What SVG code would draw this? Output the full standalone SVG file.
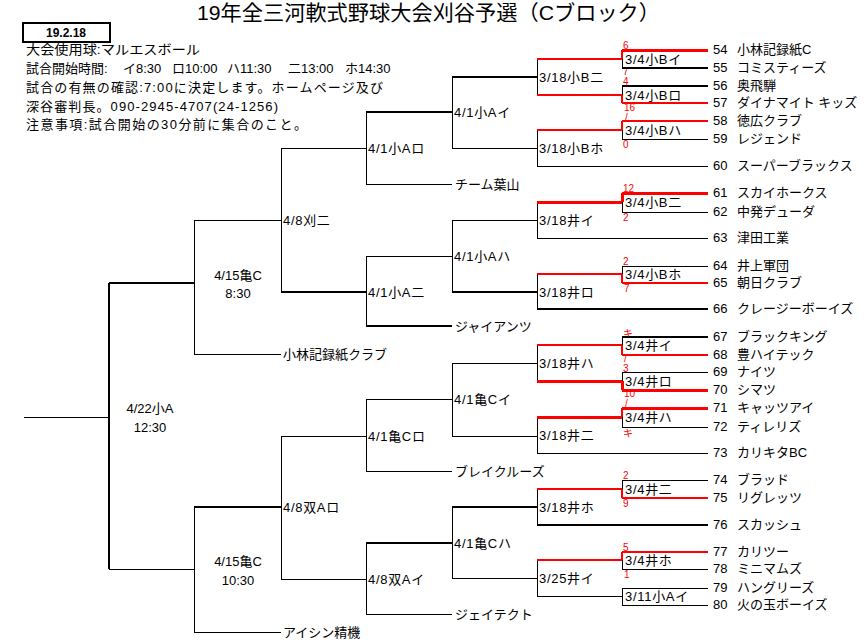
<svg xmlns="http://www.w3.org/2000/svg" width="867" height="642" viewBox="0 0 867 642">
<style>
text{font-family:"Liberation Sans","Noto Sans CJK JP",sans-serif;font-size:13px;fill:#000}
.ttl{font-size:21px}
.sc{font-size:10px;fill:#f00}
.c{text-anchor:middle}
.lb{letter-spacing:0.7px}
path{fill:none;shape-rendering:crispEdges}
.k1{stroke:#000;stroke-width:1}
.k2{stroke:#000;stroke-width:2}
.r2{stroke:#f00;stroke-width:2}
.r3{stroke:#f00;stroke-width:3}
</style>
<rect width="867" height="642" fill="#fff"/>
<g id="title"><text class="ttl" x="197" y="20" textLength="463" lengthAdjust="spacingAndGlyphs">19年全三河軟式野球大会刈谷予選（Cブロック）</text></g>
<g id="datebox">
<rect x="23" y="23" width="87" height="19" fill="#fff" stroke="#000" stroke-width="2"/>
<text class="c" x="66" y="37" style="font-size:12px;font-weight:bold">19.2.18</text>
</g>
<g id="info">
<text x="26" y="54" textLength="174" lengthAdjust="spacingAndGlyphs">大会使用球:マルエスボール</text>
<text x="26" y="73">試合開始時間:<tspan x="123">イ8:30</tspan><tspan x="172">ロ10:00</tspan><tspan x="227">ハ11:30</tspan><tspan x="288">二13:00</tspan><tspan x="345">ホ14:30</tspan></text>
<text x="26" y="92" textLength="357" lengthAdjust="spacing">試合の有無の確認:7:00に決定します。ホームページ及び</text>
<text x="26" y="111" textLength="252" lengthAdjust="spacing">深谷審判長。090-2945-4707(24-1256)</text>
<text x="26" y="129" textLength="281" lengthAdjust="spacing">注意事項:試合開始の30分前に集合のこと。</text>
</g>
<g id="scores">
<text class="sc" x="623" y="49">6</text>
<text class="sc" x="623" y="75">7</text>
<text class="sc" x="623" y="85">4</text>
<text class="sc" x="624" y="111">16</text>
<text class="sc" x="625" y="121">/</text>
<text class="sc" x="623" y="148">0</text>
<text class="sc" x="623" y="192">12</text>
<text class="sc" x="623" y="221">2</text>
<text class="sc" x="623" y="265">2</text>
<text class="sc" x="624" y="292">7</text>
<text class="sc" x="623" y="337">キ</text>
<text class="sc" x="624" y="362">/</text>
<text class="sc" x="623" y="372">3</text>
<text class="sc" x="624" y="397">10</text>
<text class="sc" x="625" y="407">/</text>
<text class="sc" x="623" y="437">キ</text>
<text class="sc" x="623" y="479">2</text>
<text class="sc" x="623" y="507">9</text>
<text class="sc" x="623" y="551">5</text>
<text class="sc" x="624" y="578">1</text>
</g>
<g id="connectors">
<path class="k1" d="M24 417H109"/>
<path class="k2" d="M109 283V569M109 283H194"/>
<path class="k1" d="M194 220V354M194 220H281M194 354H281"/>
<path class="k1" d="M281 148V292M281 148H366"/>
<path class="k2" d="M281 292H366"/>
<path class="k1" d="M366 112V184M366 184H452"/>
<path class="k2" d="M366 112H452"/>
<path class="k1" d="M452 77V148M452 148H537"/>
<path class="k2" d="M452 77H537"/>
<path class="k1" d="M537 59V95M622 59V68M622 86V95"/>
<path class="r2" d="M537 59H622M622 50V59"/>
<path class="r3" d="M622 50H708"/>
<path class="k2" d="M622 68H708M622 86H708"/>
<path class="r2" d="M537 95H622M622 95V103M622 103H708"/>
<path class="k1" d="M537 130V166M537 166H708M622 130V139M622 139H708"/>
<path class="r2" d="M537 130H622M622 121V130M622 121H708"/>
<path class="k1" d="M366 256V326M366 256H452M452 220V292M452 220H537"/>
<path class="k2" d="M366 326H452M452 292H537"/>
<path class="k1" d="M537 202V238M537 238H708M622 202V212M622 212H708"/>
<path class="r3" d="M537 202H622M622 193V202M622 193H708"/>
<path class="k1" d="M537 274V309M622 266V274M622 266H708"/>
<path class="r2" d="M537 274H622M622 274V283M622 283H708"/>
<path class="k2" d="M537 309H708"/>
<path class="k1" d="M109 569H194M194 507V632M194 632H281"/>
<path class="k2" d="M194 507H281"/>
<path class="k1" d="M281 436V579M281 436H366M281 579H366"/>
<path class="k1" d="M366 399V471M366 399H452M366 471H452"/>
<path class="k1" d="M452 363V436M452 363H537M452 436H537"/>
<path class="k1" d="M537 345V381M622 337V345M622 372V381M622 372H708"/>
<path class="k2" d="M622 337H708"/>
<path class="r2" d="M537 345H622M622 345V355M622 355H708"/>
<path class="r3" d="M537 381H622M622 381V390M622 390H708"/>
<path class="k1" d="M537 417V453M537 453H708M622 417V427M622 427H708"/>
<path class="r3" d="M537 417H622M622 408H708"/>
<path class="r2" d="M622 408V417"/>
<path class="k1" d="M366 543V614M366 614H452M452 507V578M452 578H537"/>
<path class="k2" d="M366 543H452M452 507H537"/>
<path class="k1" d="M537 489V525M622 480V489M622 480H708"/>
<path class="r2" d="M537 489H622M622 489V498M622 498H708"/>
<path class="k2" d="M537 525H708"/>
<path class="k1" d="M537 560V596M622 560V569M622 569H708M537 596H622M622 588V605M622 588H708M622 605H708"/>
<path class="r2" d="M537 560H622M622 552V560M622 552H708"/>
</g>
<g id="m_final"><text class="c" x="150" y="413">4/22小A</text><text class="c" x="150" y="432">12:30</text></g>
<g id="m_415a"><text class="c" x="238" y="280">4/15亀C</text><text class="c" x="238" y="298">8:30</text></g>
<g id="m_415b"><text class="c" x="238" y="566">4/15亀C</text><text class="c" x="238" y="585">10:30</text></g>
<g id="m_48ka"><text class="lb" x="283" y="225">4/8刈二</text></g>
<g id="m_48sa_ro"><text class="lb" x="283" y="512">4/8双Aロ</text></g>
<g id="m_48sa_i"><text class="lb" x="368" y="584">4/8双Aイ</text></g>
<g id="m_41aro"><text class="lb" x="368" y="153">4/1小Aロ</text></g>
<g id="m_41ani"><text class="lb" x="368" y="297">4/1小A二</text></g>
<g id="m_41cro"><text class="lb" x="368" y="441">4/1亀Cロ</text></g>
<g id="m_41ai"><text class="lb" x="454" y="117">4/1小Aイ</text></g>
<g id="m_41aha"><text class="lb" x="454" y="261">4/1小Aハ</text></g>
<g id="m_41ci"><text class="lb" x="454" y="404">4/1亀Cイ</text></g>
<g id="m_41cha"><text class="lb" x="454" y="548">4/1亀Cハ</text></g>
<g id="team_koba"><text x="283" y="359">小林記録紙クラブ</text></g>
<g id="team_aisin"><text x="283" y="637">アイシン精機</text></g>
<g id="team_hayama"><text x="455" y="189">チーム葉山</text></g>
<g id="team_giants"><text x="455" y="331">ジャイアンツ</text></g>
<g id="team_blake"><text x="455" y="476">ブレイクルーズ</text></g>
<g id="team_jtekt"><text x="455" y="619">ジェイテクト</text></g>
<g id="m_318bni"><text class="lb" x="539" y="82">3/18小B二</text></g>
<g id="m_318bho"><text class="lb" x="539" y="153">3/18小Bホ</text></g>
<g id="m_318ii"><text class="lb" x="539" y="225">3/18井イ</text></g>
<g id="m_318iro"><text class="lb" x="539" y="297">3/18井ロ</text></g>
<g id="m_318iha"><text class="lb" x="539" y="368">3/18井ハ</text></g>
<g id="m_318ini"><text class="lb" x="539" y="440">3/18井二</text></g>
<g id="m_318iho"><text class="lb" x="539" y="512">3/18井ホ</text></g>
<g id="m_325ii"><text class="lb" x="539" y="583">3/25井イ</text></g>
<g id="m_34bi"><text class="lb" x="625" y="64">3/4小Bイ</text></g>
<g id="m_34bro"><text class="lb" x="625" y="100">3/4小Bロ</text></g>
<g id="m_34bha"><text class="lb" x="625" y="135">3/4小Bハ</text></g>
<g id="m_34bni"><text class="lb" x="625" y="207">3/4小B二</text></g>
<g id="m_34bho"><text class="lb" x="625" y="279">3/4小Bホ</text></g>
<g id="m_34ii"><text class="lb" x="625" y="350">3/4井イ</text></g>
<g id="m_34iro"><text class="lb" x="625" y="386">3/4井ロ</text></g>
<g id="m_34iha"><text class="lb" x="625" y="422">3/4井ハ</text></g>
<g id="m_34ini"><text class="lb" x="625" y="494">3/4井二</text></g>
<g id="m_34iho"><text class="lb" x="625" y="565">3/4井ホ</text></g>
<g id="m_311ai"><text class="lb" x="625" y="601">3/11小Aイ</text></g>
<g id="t54"><text x="713" y="54">54</text><text x="737" y="54">小林記録紙C</text></g>
<g id="t55"><text x="713" y="72">55</text><text x="737" y="72">コミスティーズ</text></g>
<g id="t56"><text x="713" y="90">56</text><text x="737" y="90">奥飛騨</text></g>
<g id="t57"><text x="713" y="107">57</text><text x="737" y="107">ダイナマイト キッズ</text></g>
<g id="t58"><text x="713" y="125">58</text><text x="737" y="125">徳広クラブ</text></g>
<g id="t59"><text x="713" y="143">59</text><text x="737" y="143">レジェンド</text></g>
<g id="t60"><text x="713" y="170">60</text><text x="737" y="170">スーパーブラックス</text></g>
<g id="t61"><text x="713" y="197">61</text><text x="737" y="197">スカイホークス</text></g>
<g id="t62"><text x="713" y="216">62</text><text x="737" y="216">中発デューダ</text></g>
<g id="t63"><text x="713" y="242">63</text><text x="737" y="242">津田工業</text></g>
<g id="t64"><text x="713" y="270">64</text><text x="737" y="270">井上軍団</text></g>
<g id="t65"><text x="713" y="287">65</text><text x="737" y="287">朝日クラブ</text></g>
<g id="t66"><text x="713" y="313">66</text><text x="737" y="313">クレージーボーイズ</text></g>
<g id="t67"><text x="713" y="341">67</text><text x="737" y="341">ブラックキング</text></g>
<g id="t68"><text x="713" y="359">68</text><text x="737" y="359">豊ハイテック</text></g>
<g id="t69"><text x="713" y="376">69</text><text x="737" y="376">ナイツ</text></g>
<g id="t70"><text x="713" y="394">70</text><text x="737" y="394">シマツ</text></g>
<g id="t71"><text x="713" y="412">71</text><text x="737" y="412">キャッツアイ</text></g>
<g id="t72"><text x="713" y="431">72</text><text x="737" y="431">ティレリズ</text></g>
<g id="t73"><text x="713" y="457">73</text><text x="737" y="457">カリキタBC</text></g>
<g id="t74"><text x="713" y="484">74</text><text x="737" y="484">ブラッド</text></g>
<g id="t75"><text x="713" y="502">75</text><text x="737" y="502">リグレッツ</text></g>
<g id="t76"><text x="713" y="529">76</text><text x="737" y="529">スカッシュ</text></g>
<g id="t77"><text x="713" y="556">77</text><text x="737" y="556">カリツー</text></g>
<g id="t78"><text x="713" y="573">78</text><text x="737" y="573">ミニマムズ</text></g>
<g id="t79"><text x="713" y="592">79</text><text x="737" y="592">ハングリーズ</text></g>
<g id="t80"><text x="713" y="609">80</text><text x="737" y="609">火の玉ボーイズ</text></g>
</svg>
